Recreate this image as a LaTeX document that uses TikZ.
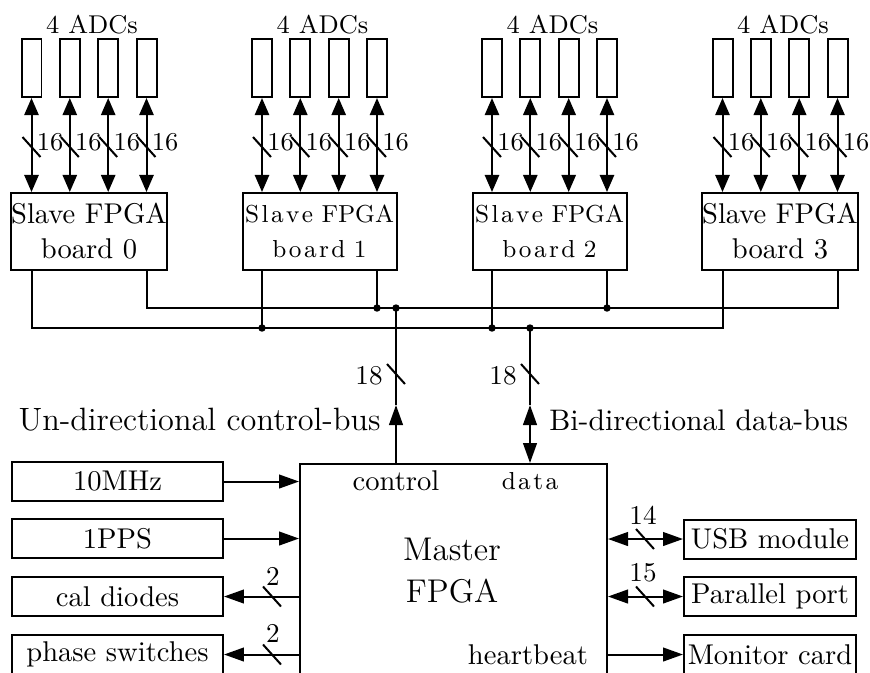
\documentclass[tikz,border=0pt]{standalone}
\usepackage{fontspec}
\usetikzlibrary{arrows.meta, positioning, calc}

% spread the letters of one word a little
\makeatletter
\newcommand\spread[1]{\@tfor\sp@ch:=#1\do{\sp@ch\kern.1em}\unkern}
\makeatother

\tikzset{
  font=\fontsize{10}{12.25}\selectfont,
  >={Triangle[length=7pt, width=4.8pt]},
  %
  box/.style={draw, line width=0.7pt, inner sep=0pt, align=center},
  board/.style={box, minimum width=53.9pt, minimum height=26.95pt},
  adc/.style={box, minimum width=7pt, minimum height=20.3pt},
  side/.style={box, minimum width=73.85pt, minimum height=13.65pt},
  port/.style={box, minimum width=60.2pt, minimum height=13.65pt},
  %
  wire/.style={line width=0.7pt},
  flow/.style={wire, ->},
  adclink/.style={wire, {Triangle[length=6pt, width=5pt]}-{Triangle[length=6pt, width=5pt]}},
  dot/.style={circle, fill, inner sep=0pt, minimum size=2.6pt},
  %
  plainbrd/.style={},
  spacedbrd/.style={font=\fontsize{8.6}{12.25}\selectfont},
  lbl/.style={inner sep=1pt},
  small/.style={lbl, font=\fontsize{9}{11}\selectfont},
  num/.style={lbl, font=\fontsize{9.5}{11}\selectfont},
  buswidth/.pic={\draw[wire] (-9,-10) -- (9,10);},
}

\begin{document}
\begin{tikzpicture}[x=0.35pt, y=-0.35pt]
  \useasboundingbox (0,0) rectangle (870,672);
  \clip (0,0) rectangle (870,672);

  % =======================================================================
  % slave boards, each with 4 ADCs
  % =======================================================================
  \node[board] (b0) at (89,231.5) {Slave FPGA\\board 0};
  \node[board, spacedbrd] (b1) at (319.5,231.5) {\spread{Slave} FPGA\\\spread{board} 1};
  \node[board, spacedbrd] (b2) at (549.5,231.5) {\spread{Slave} FPGA\\\spread{board} 2};
  \node[board] (b3) at (780,231.5) {Slave FPGA\\board 3};

  \foreach \b/\bx in {0/89, 1/319.5, 2/549.5, 3/780} {
    \node[small] (adcs\b) at (\bx+3,25) {4 ADCs};
    \foreach \i/\dx in {0/-57.5, 1/-19.2, 2/19.2, 3/57.5} {
      \node[adc] (a\b\i) at (\bx+\dx,68) {};
      \draw[adclink] (a\b\i) -- (a\b\i |- b\b.north);
      \pic at (\bx+\dx,147) {buswidth};
      \node[small, anchor=west] (w\b\i) at (\bx+\dx+2,142) {16};
    }
  }

  % the two buses
  \coordinate (ub) at (0,308);
  \coordinate (lb) at (0,328);
  \draw[wire] (b0.south -| a03) -- (a03 |- ub) -- (a33 |- ub) -- (b3.south -| a33);
  \draw[wire] (b0.south -| a00) -- (a00 |- lb) -- (a30 |- lb) -- (b3.south -| a30);
  \foreach \b in {1,2} {
    \draw[wire] (b\b.south -| a\b0) -- (a\b0 |- lb) node[dot] {};
    \draw[wire] (b\b.south -| a\b3) -- (a\b3 |- ub) node[dot] {};
  }

  % =======================================================================
  % master
  % =======================================================================
  \node[box, minimum width=107.45pt, minimum height=90pt, anchor=north]
    (master) at (453.5,463) {};
  \node[font=\fontsize{11.5}{14.7}\selectfont, align=center] (mtitle) at (452,571)
    {Master\\FPGA};
  \node (ctltxt) at (396,481) {control};
  \node[spacedbrd] (datatxt) at (530,481) {\spread{data}};
  \node[anchor=east] (hbtxt) at (598,654.5) {heartbeat};

  % control bus
  \coordinate (ctl) at (396,405);
  \draw[flow] (master.north -| ctl) -- (ctl);
  \draw[wire] (ctl) -- (ctl |- ub) node[dot] {};
  \pic at (396,374) {buswidth};
  \node[num, anchor=east] (ctlw) at (386,376) {18};
  \node[lbl, anchor=east, font=\fontsize{11.3}{13}\selectfont] (ctllbl) at (384,420)
    {Un-directional control-bus};

  % data bus
  \coordinate (dat) at (530,405);
  \draw[wire, <->] (master.north -| dat) -- (dat);
  \draw[wire] (dat) -- (dat |- lb) node[dot] {};
  \pic at (530,374) {buswidth};
  \node[num, anchor=east] (datw) at (520,376) {18};
  \node[lbl, anchor=west, font=\fontsize{10.4}{12}\selectfont] (datlbl) at (546,420)
    {Bi-directional data-bus};

  % =======================================================================
  % left side
  % =======================================================================
  \node[side] (mhz) at (117.5,481.5) {10MHz};
  \node[side] (pps) at (117.5,538.5) {1PPS};
  \node[side] (cal) at (117.5,596.5) {cal diodes};
  \node[side] (phs) at (117.5,654.5) {phase switches};
  \draw[flow] (mhz) -- (mhz -| master.west);
  \draw[flow] (pps) -- (pps -| master.west);
  \draw[flow] (cal -| master.west) -- (cal);
  \draw[flow] (phs -| master.west) -- (phs);
  \pic at (272,596.5) {buswidth};
  \node[num] (calw) at (273,576) {2};
  \pic at (272,654.5) {buswidth};
  \node[num] (phsw) at (273,633) {2};

  % =======================================================================
  % right side
  % =======================================================================
  \node[port] (usb) at (770,539) {USB module};
  \node[port] (par) at (770,596.5) {Parallel port};
  \node[port] (mon) at (770,654.5) {Monitor card};
  \draw[wire, <->] (usb -| master.east) -- (usb);
  \draw[wire, <->] (par -| master.east) -- (par);
  \draw[flow] (mon -| master.east) -- (mon);
  \pic at (645,539) {buswidth};
  \node[num] (usbw) at (643,515) {14};
  \pic at (645,596.5) {buswidth};
  \node[num] (parw) at (643,573) {15};

\end{tikzpicture}
\end{document}
